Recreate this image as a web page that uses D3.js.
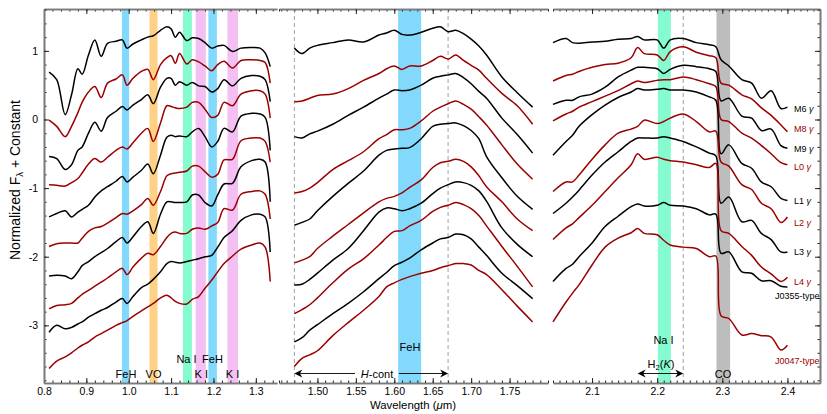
<!DOCTYPE html>
<meta charset="utf-8">
<style>
    body {
        margin: 0;
        background: #fff;
    }

    text {
        font-family: "Liberation Sans", Arial, sans-serif;
    }
</style>
<svg id="chart" width="827" height="414"></svg>
<script src="https://cdn.jsdelivr.net/npm/d3@7"></script>
<script>
    // wavelength grids (micron) for the three windows
    const jWave = [0.812, 0.83, 0.85, 0.865, 0.88, 0.89, 0.905, 0.92, 0.935, 0.95, 0.97, 0.985, 0.996, 1.01, 1.03, 1.045, 1.058, 1.075, 1.09, 1.10, 1.11, 1.12, 1.137, 1.15, 1.165, 1.18, 1.196, 1.21, 1.225, 1.245, 1.265, 1.29, 1.31, 1.322, 1.334];
    const hWave = [1.47, 1.48, 1.49, 1.50, 1.52, 1.54, 1.56, 1.58, 1.59, 1.60, 1.61, 1.62, 1.635, 1.65, 1.66, 1.67, 1.68, 1.69, 1.70, 1.71, 1.72, 1.74, 1.76, 1.78];
    const kWave = [2.04, 2.06, 2.07, 2.08, 2.10, 2.12, 2.14, 2.16, 2.17, 2.18, 2.20, 2.21, 2.22, 2.24, 2.26, 2.28, 2.29, 2.298, 2.31, 2.33, 2.345, 2.36, 2.375, 2.39, 2.40];

    // normalized flux + constant
    const m6J = [0.69, 0.58, 0.07, 0.36, 0.74, 0.66, 0.94, 1.16, 0.92, 1.11, 1.14, 1.16, 1.04, 1.10, 1.16, 1.20, 1.22, 1.30, 1.35, 1.32, 1.20, 1.27, 1.15, 1.19, 1.18, 1.12, 1.04, 1.07, 1.08, 0.99, 1.04, 1.05, 1.04, 0.97, 0.77];
    const m8J = [-0.01, -0.10, -0.25, -0.10, 0.10, 0.25, 0.40, 0.48, 0.32, 0.53, 0.59, 0.65, 0.50, 0.60, 0.70, 0.73, 0.58, 0.80, 0.90, 0.93, 0.82, 0.96, 0.81, 0.87, 0.84, 0.78, 0.71, 0.80, 0.85, 0.75, 0.86, 0.87, 0.86, 0.83, 0.53];
    const m9J = [-0.54, -0.57, -0.73, -0.66, -0.45, -0.40, -0.20, -0.04, -0.17, 0.03, 0.12, 0.19, 0.14, 0.21, 0.29, 0.36, 0.23, 0.47, 0.60, 0.60, 0.50, 0.55, 0.50, 0.54, 0.49, 0.48, 0.40, 0.45, 0.58, 0.49, 0.60, 0.64, 0.63, 0.58, 0.26];
    const l0J = [-0.95, -0.96, -0.97, -0.92, -0.86, -0.78, -0.65, -0.57, -0.62, -0.55, -0.45, -0.40, -0.43, -0.34, -0.20, -0.13, -0.32, -0.05, 0.20, 0.19, 0.17, 0.16, 0.18, 0.25, 0.25, 0.15, 0.03, 0.06, 0.25, 0.20, 0.37, 0.42, 0.42, 0.37, 0.02];
    const l1J = [-1.42, -1.37, -1.33, -1.42, -1.35, -1.31, -1.25, -1.13, -1.04, -0.98, -0.90, -0.83, -0.91, -0.84, -0.74, -0.65, -0.79, -0.52, -0.26, -0.23, -0.25, -0.24, -0.25, -0.18, -0.13, -0.25, -0.40, -0.32, -0.13, -0.18, 0.05, 0.09, 0.08, 0.03, -0.45];
    const l2J = [-1.85, -1.81, -1.80, -1.80, -1.80, -1.73, -1.63, -1.58, -1.56, -1.51, -1.43, -1.37, -1.38, -1.33, -1.24, -1.15, -1.25, -1.05, -0.82, -0.79, -0.78, -0.77, -0.75, -0.68, -0.68, -0.76, -0.84, -0.80, -0.59, -0.58, -0.31, -0.27, -0.27, -0.32, -0.62];
    const l3J = [-2.28, -2.27, -2.28, -2.32, -2.22, -2.13, -2.07, -2.00, -1.94, -1.88, -1.78, -1.72, -1.80, -1.71, -1.56, -1.49, -1.66, -1.38, -1.20, -1.20, -1.21, -1.21, -1.20, -1.10, -1.10, -1.21, -1.26, -1.10, -0.94, -0.93, -0.69, -0.60, -0.58, -0.62, -1.20];
    const l4J = [-2.76, -2.71, -2.70, -2.68, -2.60, -2.55, -2.49, -2.43, -2.37, -2.31, -2.22, -2.17, -2.26, -2.15, -2.02, -1.95, -1.97, -1.85, -1.72, -1.66, -1.64, -1.66, -1.66, -1.60, -1.58, -1.60, -1.55, -1.50, -1.30, -1.32, -1.09, -1.05, -1.04, -1.09, -1.45];
    const j0355J = [-3.10, -3.00, -3.05, -3.03, -2.98, -2.95, -2.88, -2.83, -2.78, -2.74, -2.66, -2.61, -2.68, -2.58, -2.45, -2.40, -2.33, -2.22, -2.10, -2.07, -2.08, -2.09, -2.07, -2.05, -2.03, -2.00, -1.98, -1.86, -1.72, -1.62, -1.47, -1.39, -1.38, -1.42, -1.93];
    const j0047J = [-3.63, -3.52, -3.46, -3.40, -3.33, -3.29, -3.24, -3.17, -3.12, -3.07, -3.00, -2.96, -2.93, -2.87, -2.79, -2.73, -2.68, -2.60, -2.56, -2.60, -2.65, -2.68, -2.69, -2.62, -2.58, -2.46, -2.34, -2.22, -2.10, -1.99, -1.89, -1.83, -1.80, -1.86, -2.36];

    const m6H = [1.04, 0.96, 1.04, 1.08, 1.12, 1.16, 1.13, 1.23, 1.26, 1.30, 1.24, 1.23, 1.27, 1.33, 1.35, 1.28, 1.30, 1.25, 1.17, 1.07, 0.94, 0.62, 0.39, 0.18];
    const m8H = [0.26, 0.27, 0.31, 0.35, 0.37, 0.45, 0.57, 0.67, 0.74, 0.78, 0.73, 0.78, 0.78, 0.86, 0.92, 0.88, 0.94, 0.86, 0.79, 0.72, 0.60, 0.38, 0.20, -0.07];
    const m9H = [-0.25, -0.27, -0.21, -0.17, -0.07, 0.06, 0.18, 0.31, 0.37, 0.43, 0.42, 0.43, 0.50, 0.60, 0.63, 0.65, 0.67, 0.61, 0.52, 0.41, 0.31, 0.02, -0.22, -0.49];
    const l0H = [-1.07, -1.05, -1.00, -0.92, -0.73, -0.60, -0.47, -0.28, -0.22, -0.15, -0.15, -0.13, -0.02, 0.12, 0.18, 0.23, 0.27, 0.22, 0.15, 0.04, -0.08, -0.37, -0.65, -0.87];
    const l1H = [-1.54, -1.50, -1.45, -1.33, -1.12, -0.93, -0.75, -0.52, -0.45, -0.43, -0.42, -0.41, -0.28, -0.10, -0.07, -0.06, -0.05, -0.09, -0.16, -0.28, -0.54, -0.85, -1.12, -1.31];
    const l2H = [-2.09, -2.05, -2.00, -1.88, -1.70, -1.53, -1.36, -1.20, -1.15, -1.12, -1.07, -0.99, -0.88, -0.70, -0.63, -0.61, -0.58, -0.61, -0.69, -0.82, -0.98, -1.20, -1.45, -1.62];
    const l3H = [-2.41, -2.40, -2.33, -2.24, -2.05, -1.88, -1.62, -1.35, -1.29, -1.30, -1.33, -1.30, -1.22, -1.08, -1.00, -0.95, -0.91, -0.92, -0.96, -1.04, -1.19, -1.58, -1.82, -2.00];
    const l4H = [-2.83, -2.77, -2.70, -2.60, -2.38, -2.18, -2.03, -1.83, -1.72, -1.63, -1.62, -1.55, -1.47, -1.34, -1.28, -1.25, -1.21, -1.24, -1.30, -1.40, -1.55, -1.85, -2.14, -2.44];
    const j0355H = [-3.24, -3.18, -3.07, -2.99, -2.83, -2.68, -2.51, -2.32, -2.23, -2.13, -2.08, -2.02, -1.90, -1.80, -1.74, -1.72, -1.67, -1.68, -1.74, -1.86, -1.98, -2.24, -2.42, -2.61];
    const j0047H = [-3.60, -3.48, -3.43, -3.37, -3.15, -2.96, -2.78, -2.58, -2.44, -2.38, -2.33, -2.29, -2.24, -2.20, -2.16, -2.13, -2.10, -2.10, -2.12, -2.20, -2.26, -2.48, -2.72, -2.95];

    const m6K = [1.12, 1.18, 1.12, 1.11, 1.13, 1.14, 1.17, 1.18, 1.21, 1.16, 1.16, 1.04, 1.16, 1.18, 1.12, 1.09, 1.06, 0.87, 0.78, 0.58, 0.53, 0.31, 0.42, 0.16, 0.18];
    const m8K = [0.56, 0.64, 0.66, 0.70, 0.76, 0.80, 0.82, 0.90, 1.05, 0.96, 0.94, 0.86, 0.99, 1.06, 0.98, 0.93, 0.90, 0.53, 0.50, 0.36, 0.30, 0.17, 0.06, -0.08, -0.18];
    const m9K = [0.22, 0.28, 0.28, 0.33, 0.37, 0.47, 0.62, 0.72, 0.76, 0.76, 0.74, 0.67, 0.73, 0.79, 0.77, 0.74, 0.70, 0.27, 0.31, 0.05, 0.02, -0.16, -0.14, -0.38, -0.42];
    const l0K = [-0.02, 0.08, 0.12, 0.18, 0.26, 0.34, 0.42, 0.52, 0.56, 0.54, 0.57, 0.58, 0.58, 0.62, 0.58, 0.52, 0.48, 0.00, -0.03, -0.20, -0.27, -0.38, -0.50, -0.63, -0.66];
    const l1K = [-0.52, -0.32, -0.23, -0.10, 0.07, 0.21, 0.32, 0.40, 0.45, 0.43, 0.44, 0.45, 0.43, 0.43, 0.40, 0.33, 0.28, -0.50, -0.37, -0.64, -0.71, -0.91, -0.98, -1.15, -1.18];
    const l2K = [-1.05, -0.91, -0.91, -0.81, -0.58, -0.37, -0.20, -0.14, -0.10, -0.01, -0.06, -0.03, 0.02, 0.08, -0.03, -0.18, -0.17, -0.62, -0.68, -0.95, -1.02, -1.22, -1.30, -1.50, -1.42];
    const l3K = [-1.37, -1.22, -1.13, -1.03, -0.81, -0.62, -0.47, -0.32, -0.27, -0.27, -0.27, -0.25, -0.27, -0.32, -0.40, -0.49, -0.53, -1.22, -1.13, -1.49, -1.47, -1.66, -1.75, -1.93, -1.93];
    const l4K = [-1.75, -1.58, -1.52, -1.43, -1.25, -1.05, -0.85, -0.66, -0.50, -0.58, -0.55, -0.58, -0.60, -0.62, -0.66, -0.70, -0.64, -1.62, -1.66, -1.85, -1.98, -2.15, -2.25, -2.36, -2.30];
    const j0355K = [-2.36, -2.17, -2.11, -2.00, -1.80, -1.56, -1.41, -1.27, -1.23, -1.26, -1.25, -1.21, -1.25, -1.26, -1.30, -1.39, -1.38, -1.95, -1.93, -2.22, -2.24, -2.35, -2.35, -2.43, -2.44];
    const j0047K = [-2.95, -2.66, -2.53, -2.41, -2.12, -1.86, -1.73, -1.65, -1.59, -1.66, -1.68, -1.76, -1.83, -1.86, -1.88, -2.00, -1.99, -2.86, -2.90, -3.14, -3.12, -3.15, -3.17, -3.36, -3.29];

    const spectra = [
        {name: "M6", gamma: true, j: m6J, h: m6H, k: m6K},
        {name: "M8", gamma: true, j: m8J, h: m8H, k: m8K},
        {name: "M9", gamma: true, j: m9J, h: m9H, k: m9K},
        {name: "L0", gamma: true, j: l0J, h: l0H, k: l0K},
        {name: "L1", gamma: true, j: l1J, h: l1H, k: l1K},
        {name: "L2", gamma: true, j: l2J, h: l2H, k: l2K},
        {name: "L3", gamma: true, j: l3J, h: l3H, k: l3K},
        {name: "L4", gamma: true, j: l4J, h: l4H, k: l4K},
        {name: "J0355-type", gamma: false, j: j0355J, h: j0355H, k: j0355K},
        {name: "J0047-type", gamma: false, j: j0047J, h: j0047H, k: j0047K}
    ];

    // feature bands [from, to] in micron
    const jBands = [
        {range: [0.984, 1.001], color: "#82d9fb"},
        {range: [1.049, 1.068], color: "#ffd187"},
        {range: [1.128, 1.149], color: "#85fbcf"},
        {range: [1.158, 1.182], color: "#f4bff3"},
        {range: [1.188, 1.208], color: "#82d9fb"},
        {range: [1.233, 1.258], color: "#f4bff3"}
    ];
    const hBands = [{range: [1.605, 1.635], color: "#82d9fb"}];
    const kBands = [
        {range: [2.201, 2.221], color: "#85fbcf"},
        {range: [2.291, 2.312], color: "#bdbdbd"}
    ];

    // label levels on the right (same units as flux)
    const labelLevel = [0.16, -0.14, -0.42, -0.69, -1.19, -1.51, -1.93, -2.37, -2.57, -3.51];

    const svg = d3.select("#chart");
    const yTop = 9, yBottom = 383;
    const y = d3.scaleLinear([-3.84, 1.61], [yBottom, yTop]);

    const xJ = d3.scaleLinear([0.8, 1.35], [44, 277]);
    const xH = d3.scaleLinear([1.45, 1.80], [279, 548]);
    const xK = d3.scaleLinear([2.04, 2.45], [553, 820]);

    const black = "#000", red = "#9a0000";
    const color = i => i % 2 === 0 ? black : red;

    function steps(a, b, step) {
        return d3.range(Math.round(a / step), Math.round(b / step) + 1).map(i => +(i * step).toFixed(4));
    }

    function bands(x, list) {
        svg.append("g").selectAll("rect").data(list).join("rect")
            .attr("x", d => x(d.range[0]))
            .attr("width", d => x(d.range[1]) - x(d.range[0]))
            .attr("y", yTop)
            .attr("height", yBottom - yTop)
            .attr("fill", d => d.color);
    }

    function dashed(x, values) {
        svg.append("g").selectAll("line").data(values).join("line")
            .attr("x1", d => x(d)).attr("x2", d => x(d))
            .attr("y1", yTop).attr("y2", yBottom)
            .attr("stroke", "#a0a0a0").attr("stroke-width", 1)
            .attr("stroke-dasharray", "4,3");
    }

    function curves(x, wave, key) {
        const line = d3.line()
            .x((d, i) => x(wave[i]))
            .y(d => y(d))
            .curve(d3.curveCatmullRom.alpha(0.5));
        svg.append("g").selectAll("path").data(spectra).join("path")
            .attr("d", d => line(d[key]))
            .attr("fill", "none")
            .attr("stroke", (d, i) => color(i))
            .attr("stroke-width", 1.5)
            .attr("stroke-linejoin", "round");
    }

    bands(xJ, jBands);
    bands(xH, hBands);
    bands(xK, kBands);
    dashed(xH, [1.47, 1.67]);
    dashed(xK, [2.24]);

    curves(xJ, jWave, "j");
    curves(xH, hWave, "h");
    curves(xK, kWave, "k");

    // axes
    function styleAxis(g) {
        g.select(".domain").attr("stroke", "#7a7a7a").attr("stroke-width", 1.6);
        g.selectAll(".tick line").attr("stroke", "#222");
        g.selectAll("text").attr("font-size", 10.5).attr("fill", "#000")
            .attr("font-family", '"Liberation Sans", Arial, sans-serif');
    }

    function xAxes(x, major, minorStep, fmt) {
        const [a, b] = x.domain();
        const minor = steps(a, b, minorStep);
        svg.append("g").attr("transform", `translate(0,${yBottom})`)
            .call(d3.axisBottom(x).tickValues(minor).tickSize(-2.5).tickSizeOuter(0).tickFormat(""))
            .call(styleAxis);
        svg.append("g").attr("transform", `translate(0,${yBottom})`)
            .call(d3.axisBottom(x).tickValues(major).tickSize(-5).tickSizeOuter(0).tickPadding(5).tickFormat(d3.format(fmt)))
            .call(styleAxis);
        svg.append("g").attr("transform", `translate(0,${yTop})`)
            .call(d3.axisTop(x).tickValues(minor).tickSize(-2.5).tickSizeOuter(0).tickFormat(""))
            .call(styleAxis);
        svg.append("g").attr("transform", `translate(0,${yTop})`)
            .call(d3.axisTop(x).tickValues(major).tickSize(-5).tickSizeOuter(0).tickFormat(""))
            .call(styleAxis);
    }

    xAxes(xJ, steps(0.8, 1.3, 0.1), 0.02, ".1f");
    xAxes(xH, steps(1.5, 1.75, 0.05), 0.01, ".2f");
    xAxes(xK, steps(2.1, 2.4, 0.1), 0.01, ".1f");

    const yMajor = [-3, -2, -1, 0, 1];
    const yMinor = steps(-3.8, 1.6, 0.2);
    const xLeft = xJ.range()[0], xRight = xK.range()[1];
    svg.append("g").attr("transform", `translate(${xLeft},0)`)
        .call(d3.axisLeft(y).tickValues(yMinor).tickSize(-2.5).tickSizeOuter(0).tickFormat(""))
        .call(styleAxis);
    svg.append("g").attr("transform", `translate(${xLeft},0)`)
        .call(d3.axisLeft(y).tickValues(yMajor).tickSize(-5).tickSizeOuter(0).tickPadding(6).tickFormat(d3.format("d")))
        .call(styleAxis);
    svg.append("g").attr("transform", `translate(${xRight},0)`)
        .call(d3.axisRight(y).tickValues(yMinor).tickSize(-2.5).tickSizeOuter(0).tickFormat(""))
        .call(styleAxis);
    svg.append("g").attr("transform", `translate(${xRight},0)`)
        .call(d3.axisRight(y).tickValues(yMajor).tickSize(-5).tickSizeOuter(0).tickFormat(""))
        .call(styleAxis);
    svg.selectAll(".tick text").text(function () { return this.textContent.replace("\u2212", "-"); });

    // feature labels
    const labels = svg.append("g").attr("font-size", 11).attr("fill", "#000");
    function label(x, yy, txt) {
        return labels.append("text").attr("x", x).attr("y", yy).attr("text-anchor", "middle").text(txt);
    }
    label(126, 378, "FeH");
    label(153.5, 378, "VO");
    label(186.5, 362.5, "Na I");
    label(212.5, 362.5, "FeH");
    label(201.3, 378, "K I");
    label(232.5, 378, "K I");
    label(410, 350.5, "FeH");
    label(663.5, 344, "Na I");
    label(723, 378, "CO");

    const hc = labels.append("text").attr("x", 377).attr("y", 377.5).attr("text-anchor", "middle");
    hc.append("tspan").attr("font-style", "italic").text("H");
    hc.append("tspan").text("-cont");

    const h2 = labels.append("text").attr("x", 661).attr("y", 367.5).attr("text-anchor", "middle");
    h2.append("tspan").text("H");
    h2.append("tspan").attr("font-size", 7.5).attr("dy", 2.5).text("2");
    h2.append("tspan").attr("dy", -2.5).text("(");
    h2.append("tspan").attr("font-style", "italic").text("K");
    h2.append("tspan").text(")");

    // arrows
    function arrowHead(x, yy, dir) {
        labels.append("path")
            .attr("d", `M${x},${yy} l${-dir * 8},-4 l${dir * 2.5},4 l${-dir * 2.5},4 Z`)
            .attr("fill", "#000");
    }
    function arrowLine(x1, x2, yy) {
        labels.append("line").attr("x1", x1).attr("x2", x2).attr("y1", yy).attr("y2", yy)
            .attr("stroke", "#000").attr("stroke-width", 0.9);
    }
    const yArrow = 373.5;
    arrowLine(xH(1.47) + 2, 355, yArrow);
    arrowLine(399, xH(1.67) - 2, yArrow);
    arrowHead(xH(1.47), yArrow, -1);
    arrowHead(xH(1.67), yArrow, 1);
    arrowLine(xK(2.17) + 2, xK(2.24) - 2, yArrow);
    arrowHead(xK(2.17), yArrow, -1);
    arrowHead(xK(2.24), yArrow, 1);

    // spectral type labels
    const names = svg.append("g").attr("font-size", 9);
    spectra.forEach((s, i) => {
        const t = names.append("text")
            .attr("x", s.gamma ? 794 : 775)
            .attr("y", y(labelLevel[i]) + 3.2)
            .attr("fill", color(i));
        t.append("tspan").text(s.gamma ? s.name + " " : s.name);
        if (s.gamma) t.append("tspan").attr("font-style", "italic").text("\u03b3");
    });

    // axis titles
    const xt = svg.append("text").attr("x", 413).attr("y", 409).attr("text-anchor", "middle").attr("font-size", 11.4);
    xt.append("tspan").text("Wavelength (");
    xt.append("tspan").attr("font-style", "italic").text("\u03bc");
    xt.append("tspan").text("m)");

    const yt = svg.append("text").attr("transform", "translate(20,180) rotate(-90)")
        .attr("text-anchor", "middle").attr("font-size", 14);
    yt.append("tspan").text("Normalized F");
    yt.append("tspan").attr("font-size", 9.5).attr("dy", 3).text("\u03bb");
    yt.append("tspan").attr("dy", -3).text(" + Constant");
</script>
